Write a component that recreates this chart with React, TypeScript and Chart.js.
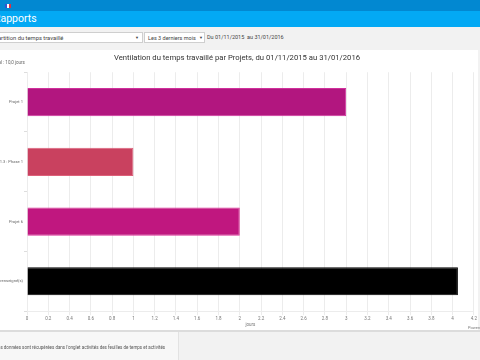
import React, { useEffect, useRef } from "react";
import { Chart, registerables } from "chart.js";

Chart.register(...registerables);

const categories = ["Projet 1", "Projet 1.3 : Phase 1", "Projet 6", "Projet non renseigné(s)"];
const values = [3.0, 1.0, 2.0, 4.05];
const barColors = ["#b2167f", "#c9415f", "#c0177f", "#000000"];
const borderColors = ["#d0309c", "#dd6079", "#dc3399", "#000000"];
const chartTitle = "Ventilation du temps travaillé par Projets, du 01/11/2015 au 31/01/2016";
const axisTitle = "jours";
const totalLabel = "Total : 10,0 jours";

const FONT = "Roboto, 'Noto Sans', sans-serif";

function BarChart() {
  const ref = useRef<HTMLCanvasElement>(null);
  useEffect(() => {
    if (!ref.current) return;
    const chart = new Chart(ref.current, {
      type: "bar",
      data: {
        labels: categories,
        datasets: [
          {
            data: values,
            backgroundColor: barColors,
            borderColor: borderColors,
            borderWidth: 1,
            categoryPercentage: 0.94,
            barPercentage: 0.5,
          },
        ],
      },
      options: {
        indexAxis: "y",
        animation: false,
        responsive: false,
        maintainAspectRatio: false,
        layout: { padding: { left: 0, right: 4, top: 0, bottom: 2 } },
        plugins: {
          legend: { display: false },
          tooltip: { enabled: false },
          title: {
            display: true,
            text: chartTitle,
            color: "#333",
            font: { family: FONT, size: 7.7, weight: "normal" },
            padding: { top: 3, bottom: 10 },
          },
        },
        scales: {
          x: {
            min: 0,
            max: 4.2,
            ticks: {
              stepSize: 0.2,
              color: "#777",
              font: { family: FONT, size: 4.5 },
              padding: 1,
              maxRotation: 0,
              autoSkip: false,
              callback: (v: any) => String(Math.round(Number(v) * 10) / 10),
            },
            grid: { color: "#ececec", tickLength: 4, lineWidth: 1 },
            border: { color: "#ececec" },
            title: {
              display: true,
              text: axisTitle,
              color: "#777",
              font: { family: FONT, size: 4.5 },
              padding: { top: 0, bottom: 0 },
            },
          },
          y: {
            afterFit: (axis: any) => {
              axis.width = 27;
            },
            ticks: {
              color: "#666",
              font: { family: FONT, size: 4.1 },
              padding: 1,
            },
            grid: {
              offset: true,
              drawOnChartArea: false,
              color: "#ddd",
              tickLength: 3,
            },
            border: { color: "#ececec" },
          },
        },
      },
    });
    return () => chart.destroy();
  }, []);
  return <canvas ref={ref} width={478} height={280} style={{ display: "block", width: 478, height: 280 }} />;
}

export default function App() {
  const base: React.CSSProperties = {
    position: "fixed",
    left: 0,
    top: 0,
    width: 480,
    height: 360,
    overflow: "hidden",
    background: "#f2f2f2",
    fontFamily: FONT,
  };
  return (
    <div style={base}>
      <div style={{ position: "absolute", left: 0, top: 0, width: 480, height: 11, background: "#0288d1" }}>
        <div style={{ position: "absolute", left: 5, top: 4, width: 6, height: 4, display: "flex" }}>
          <div style={{ flex: 1, background: "#3355cc" }} />
          <div style={{ flex: 1, background: "#ffffff" }} />
          <div style={{ flex: 1, background: "#e03040" }} />
        </div>
      </div>
      <div
        style={{
          position: "absolute",
          left: 0,
          top: 11,
          width: 480,
          height: 16,
          background: "#03a9f4",
          color: "#fff",
          fontSize: 10.5,
          lineHeight: "16px",
          overflow: "hidden",
        }}
      >
        <span style={{ position: "absolute", left: -6, top: 0 }}>Rapports</span>
      </div>
      <div
        style={{
          position: "absolute",
          left: -1,
          top: 32,
          width: 144,
          height: 11,
          background: "#fff",
          border: "1px solid #cfcfcf",
          boxSizing: "border-box",
          fontSize: 5.8,
          lineHeight: "10px",
          color: "#444",
          overflow: "hidden",
        }}
      >
        <span style={{ position: "absolute", left: -12, whiteSpace: "nowrap" }}>Répartition du temps travaillé</span>
        <span style={{ position: "absolute", right: 3, fontSize: 4 }}>▼</span>
      </div>
      <div
        style={{
          position: "absolute",
          left: 144,
          top: 32,
          width: 61,
          height: 11,
          background: "#fff",
          border: "1px solid #cfcfcf",
          boxSizing: "border-box",
          fontSize: 5.5,
          lineHeight: "10px",
          color: "#444",
          overflow: "hidden",
        }}
      >
        <span style={{ position: "absolute", left: 3, whiteSpace: "nowrap" }}>Les 3 derniers mois</span>
        <span style={{ position: "absolute", right: 1, fontSize: 4 }}>▼</span>
      </div>
      <div style={{ position: "absolute", left: 207, top: 32, fontSize: 5.5, lineHeight: "11px", color: "#444", whiteSpace: "nowrap" }}>
        Du 01/11/2015&nbsp;&nbsp;au 31/01/2016
      </div>
      <div style={{ position: "absolute", left: 0, top: 50, width: 478, height: 280, background: "#fff" }}>
        <BarChart />
        <div style={{ position: "absolute", left: -8, top: 10, fontSize: 4.5, color: "#666", whiteSpace: "nowrap" }}>
          {totalLabel}
        </div>
        <div style={{ position: "absolute", left: 468, top: 275, fontSize: 4, color: "#777", whiteSpace: "nowrap" }}>
          Powered
        </div>
      </div>
      <div style={{ position: "absolute", left: 0, top: 330, width: 480, height: 2, background: "#dcdcdc" }} />
      <div
        style={{
          position: "absolute",
          left: 0,
          top: 332,
          width: 178,
          height: 28,
          background: "#f7f7f7",
          borderRight: "1px solid #e2e2e2",
        }}
      >
        <span
          style={{ position: "absolute", left: -2, top: 13, fontSize: 4.5, color: "#555", whiteSpace: "nowrap" }}
        >
          es données sont récupérées dans l'onglet activités des feuilles de temps et activités
        </span>
      </div>
    </div>
  );
}
